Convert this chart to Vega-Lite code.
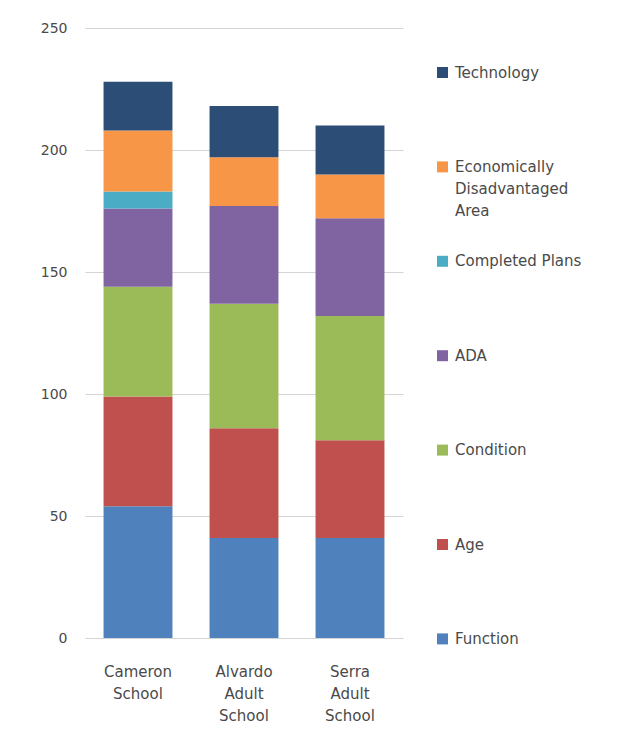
{
  "$schema": "https://vega.github.io/schema/vega-lite/v6.json",
  "width": 318,
  "height": 610,
  "padding": {"left": 40, "top": 21, "right": 5, "bottom": 5},
  "background": "white",
  "config": {
    "view": {"stroke": null},
    "font": "DejaVu Sans",
    "style": {"guide-label": {"lineHeight": 22}}
  },
  "data": {
    "values": [
      {"school": "Cameron School", "category": "Function", "ord": 1, "value": 54},
      {"school": "Cameron School", "category": "Age", "ord": 2, "value": 45},
      {"school": "Cameron School", "category": "Condition", "ord": 3, "value": 45},
      {"school": "Cameron School", "category": "ADA", "ord": 4, "value": 32},
      {"school": "Cameron School", "category": "Completed Plans", "ord": 5, "value": 7},
      {"school": "Cameron School", "category": "Economically Disadvantaged Area", "ord": 6, "value": 25},
      {"school": "Cameron School", "category": "Technology", "ord": 7, "value": 20},
      {"school": "Alvardo Adult School", "category": "Function", "ord": 1, "value": 41},
      {"school": "Alvardo Adult School", "category": "Age", "ord": 2, "value": 45},
      {"school": "Alvardo Adult School", "category": "Condition", "ord": 3, "value": 51},
      {"school": "Alvardo Adult School", "category": "ADA", "ord": 4, "value": 40},
      {"school": "Alvardo Adult School", "category": "Completed Plans", "ord": 5, "value": 0},
      {"school": "Alvardo Adult School", "category": "Economically Disadvantaged Area", "ord": 6, "value": 20},
      {"school": "Alvardo Adult School", "category": "Technology", "ord": 7, "value": 21},
      {"school": "Serra Adult School", "category": "Function", "ord": 1, "value": 41},
      {"school": "Serra Adult School", "category": "Age", "ord": 2, "value": 40},
      {"school": "Serra Adult School", "category": "Condition", "ord": 3, "value": 51},
      {"school": "Serra Adult School", "category": "ADA", "ord": 4, "value": 40},
      {"school": "Serra Adult School", "category": "Completed Plans", "ord": 5, "value": 0},
      {"school": "Serra Adult School", "category": "Economically Disadvantaged Area", "ord": 6, "value": 18},
      {"school": "Serra Adult School", "category": "Technology", "ord": 7, "value": 20}
    ]
  },
  "mark": {"type": "bar"},
  "encoding": {
    "x": {
      "field": "school",
      "type": "nominal",
      "sort": ["Cameron School", "Alvardo Adult School", "Serra Adult School"],
      "scale": {"paddingInner": 0.35, "paddingOuter": 0.175},
      "axis": {
        "title": null,
        "labelAngle": 0,
        "labelExpr": "split(datum.label, ' ')",
        "labelFontSize": 15,
        "labelLineHeight": 22,
        "labelColor": "#4a4a4a",
        "labelPadding": 26,
        "ticks": false,
        "domain": false
      }
    },
    "y": {
      "field": "value",
      "type": "quantitative",
      "stack": "zero",
      "scale": {"domain": [0, 250]},
      "axis": {
        "title": null,
        "values": [0, 50, 100, 150, 200, 250],
        "labelFontSize": 14,
        "labelColor": "#4a4a4a",
        "labelPadding": 18,
        "ticks": false,
        "domain": false,
        "gridColor": "#d4d4d4",
        "gridWidth": 1.2
      }
    },
    "color": {
      "field": "category",
      "type": "nominal",
      "scale": {
        "domain": ["Technology", "Economically Disadvantaged Area", "Completed Plans", "ADA", "Condition", "Age", "Function"],
        "range": ["#2c4d75", "#f79646", "#4bacc6", "#8064a2", "#9bbb59", "#c0504d", "#4f81bd"]
      },
      "legend": {
        "title": null,
        "orient": "none",
        "legendX": 350,
        "legendY": 37,
        "symbolType": "square",
        "symbolSize": 121,
        "symbolStrokeWidth": 0,
        "labelFontSize": 15,
        "labelColor": "#4a4a4a",
        "labelOffset": 5,
        "labelLimit": 300,
        "labelBaseline": "middle",
        "gridAlign": "all",
        "rowPadding": 34.4,
        "labelExpr": "datum.label == 'Economically Disadvantaged Area' ? ['Economically', 'Disadvantaged', 'Area'] : datum.label"
      }
    },
    "order": {"field": "ord", "type": "quantitative", "sort": "ascending"}
  }
}
